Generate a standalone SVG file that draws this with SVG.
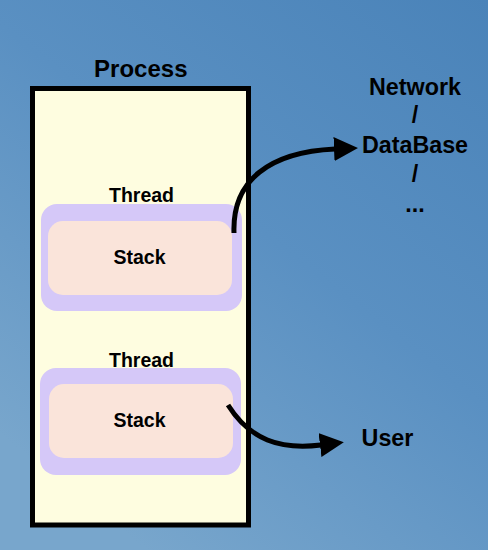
<svg xmlns="http://www.w3.org/2000/svg" width="488" height="550" viewBox="0 0 488 550">
<defs>
<linearGradient id="bg" x1="1" y1="0" x2="0.3" y2="1">
<stop offset="0" stop-color="#4a83b9"/>
<stop offset="0.5" stop-color="#5a90c2"/>
<stop offset="1" stop-color="#78a6cc"/>
</linearGradient>
<marker id="ah" markerWidth="24" markerHeight="24" refX="1" refY="12" orient="auto" markerUnits="userSpaceOnUse">
<path d="M0,0 L24,12 L0,24 Z" fill="#000"/>
</marker>
<style>
text{font-family:"Liberation Sans",Arial,sans-serif;font-weight:bold;fill:#000;text-anchor:middle}
.t{font-size:19.5px}
.l{font-size:23.3px}
.thread{fill:#d5c8f8}
.stack{fill:#fae4da}
.conn{fill:none;stroke:#000;stroke-width:5}
</style>
</defs>
<rect width="488" height="550" fill="url(#bg)"/>
<g id="process">
<text x="140.8" y="77" style="font-size:24px">Process</text>
<rect x="32.5" y="88.5" width="216" height="436.5" fill="#fefde0" stroke="#000" stroke-width="5"/>
</g>
<g id="thread1">
<text class="t" x="141.5" y="201.5">Thread</text>
<rect class="thread" x="41" y="204" width="201" height="107" rx="16"/>
<rect class="stack" x="48" y="221" width="184" height="74" rx="15"/>
<text class="t" x="139.5" y="264">Stack</text>
</g>
<g id="thread2">
<text class="t" x="141.5" y="367">Thread</text>
<rect class="thread" x="40" y="368" width="201" height="107" rx="16"/>
<rect class="stack" x="49" y="384" width="184" height="74" rx="15"/>
<text class="t" x="139.5" y="427">Stack</text>
</g>
<g id="network">
<text class="l" x="415" y="95">Network</text>
<text class="l" x="415" y="123">/</text>
<text class="l" x="415" y="153">DataBase</text>
<text class="l" x="415" y="182">/</text>
<text class="l" x="415" y="212">...</text>
</g>
<g id="user">
<text class="l" x="387.5" y="446">User</text>
</g>
<g id="connectors">
<path class="conn" d="M234,233 C232,180 270,152 335,149" marker-end="url(#ah)"/>
<path class="conn" d="M228,405 C250,440 280,450 321,445" marker-end="url(#ah)"/>
</g>
</svg>
